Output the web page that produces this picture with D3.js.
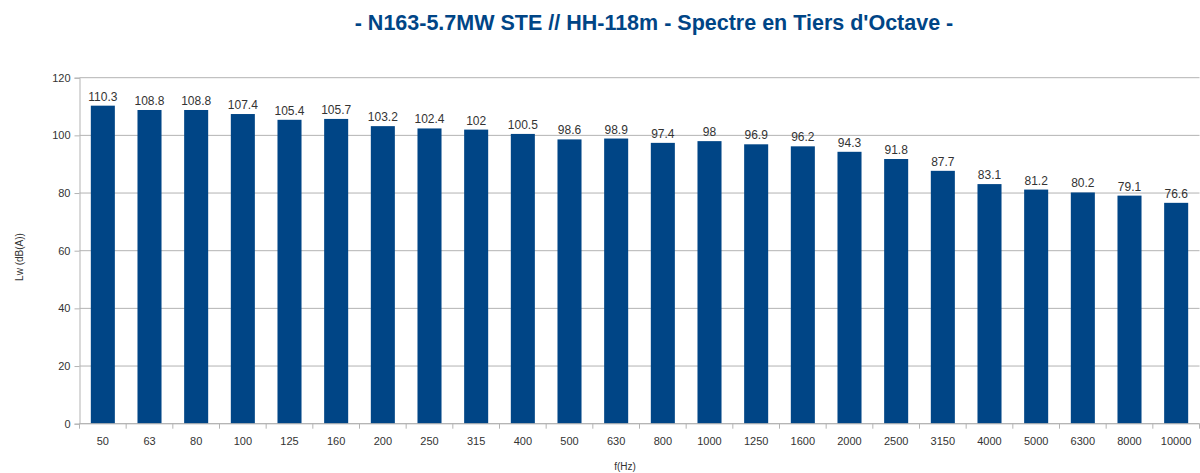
<!DOCTYPE html>
<html>
  <head>
    <meta charset="utf-8">
    <script src="https://cdnjs.cloudflare.com/ajax/libs/d3/7.8.5/d3.min.js"></script>
    <style>
      body { margin: 0; background: white; }
      text { font-family: "Liberation Sans", Arial, sans-serif; fill: #333; }
    </style>
  </head>
  <body>
  <script>
    var freqs = ["50","63","80","100","125","160","200","250","315","400","500","630","800","1000","1250","1600","2000","2500","3150","4000","5000","6300","8000","10000"];
    var levels = [110.3,108.8,108.8,107.4,105.4,105.7,103.2,102.4,102,100.5,98.6,98.9,97.4,98,96.9,96.2,94.3,91.8,87.7,83.1,81.2,80.2,79.1,76.6];
    var yTicks = [0,20,40,60,80,100,120];

    var width = 1200, height = 473;
    var plotLeft = 79.5, plotRight = 1199.5, plotTop = 77.7, plotBottom = 423.7;

    var svg = d3.select("body").append("svg")
      .attr("width", width)
      .attr("height", height);

    var x = d3.scaleBand().domain(freqs).range([plotLeft, plotRight]).paddingInner(0.485).paddingOuter(0.2425);
    var y = d3.scaleLinear().domain([0, 120]).range([plotBottom, plotTop]);

    // gridlines
    svg.selectAll(".grid")
      .data(yTicks)
      .enter().append("line")
      .attr("x1", plotLeft).attr("x2", plotRight)
      .attr("y1", function(d){ return y(d); })
      .attr("y2", function(d){ return y(d); })
      .attr("stroke", "#b3b3b3").attr("stroke-width", 1);

    // bars
    svg.selectAll(".bar")
      .data(levels)
      .enter().append("rect")
      .attr("x", function(d, i){ return x(freqs[i]); })
      .attr("width", x.bandwidth())
      .attr("y", function(d){ return y(d); })
      .attr("height", function(d){ return y(0) - y(d); })
      .style("fill", "#004586");

    // value labels
    svg.selectAll(".val")
      .data(levels)
      .enter().append("text")
      .attr("x", function(d, i){ return x(freqs[i]) + x.bandwidth() / 2; })
      .attr("y", function(d){ return y(d) - 5; })
      .attr("text-anchor", "middle")
      .style("font-size", "12px")
      .text(function(d){ return d; });

    // y axis
    var yAxis = d3.axisLeft(y).tickValues(yTicks).tickSize(5).tickPadding(4);
    var gy = svg.append("g").attr("transform", "translate(" + plotLeft + ",0)").call(yAxis);
    gy.select(".domain").attr("stroke", "#b3b3b3");
    gy.selectAll(".tick line").attr("stroke", "#b3b3b3");
    gy.selectAll(".tick text").style("font-size", "11px").style("font-family", "Liberation Sans, Arial, sans-serif").attr("fill", "#333");

    // x axis: ticks at band boundaries
    var bx = d3.scaleLinear().domain([0, freqs.length]).range([plotLeft, plotRight]);
    var gx = svg.append("g").attr("transform", "translate(0," + plotBottom + ")");
    gx.append("line").attr("x1", plotLeft).attr("x2", plotRight).attr("stroke", "#b3b3b3");
    gx.selectAll(".xt")
      .data(d3.range(freqs.length + 1))
      .enter().append("line")
      .attr("x1", function(d){ return bx(d); })
      .attr("x2", function(d){ return bx(d); })
      .attr("y1", 0).attr("y2", 5)
      .attr("stroke", "#b3b3b3");
    gx.selectAll(".xl")
      .data(freqs)
      .enter().append("text")
      .attr("x", function(d){ return x(d) + x.bandwidth() / 2; })
      .attr("y", 21)
      .attr("text-anchor", "middle")
      .style("font-size", "11px")
      .text(function(d){ return d; });

    // titles
    svg.append("text")
      .attr("x", 654).attr("y", 30)
      .attr("text-anchor", "middle")
      .style("font-size", "21.5px").style("font-weight", "bold").style("fill", "#004586")
      .text("- N163-5.7MW STE // HH-118m - Spectre en Tiers d'Octave -");

    svg.append("text")
      .attr("x", 625).attr("y", 470)
      .attr("text-anchor", "middle")
      .style("font-size", "10px")
      .text("f(Hz)");

    svg.append("text")
      .attr("transform", "translate(23,257) rotate(-90)")
      .attr("text-anchor", "middle")
      .style("font-size", "10px")
      .text("Lw (dB(A))");
  </script>
  </body>
</html>
